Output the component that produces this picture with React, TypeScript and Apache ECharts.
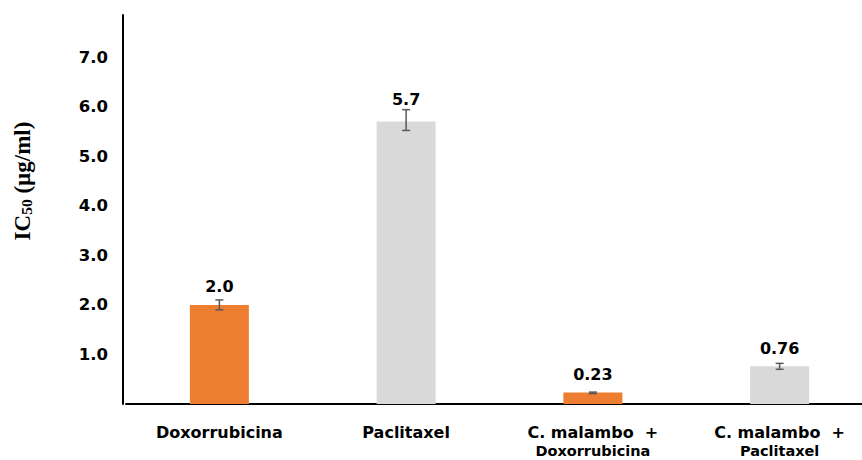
import React, { useEffect, useRef } from "react";
import * as echarts from "echarts";

const categories = [
  "{a|Doxorrubicina}",
  "{a|Paclitaxel}",
  "{a|C. malambo  +}\n{b|Doxorrubicina}",
  "{a|C. malambo  +}\n{b|Paclitaxel}",
];
const values = [2.0, 5.7, 0.23, 0.76];
const valueLabels = ["2.0", "5.7", "0.23", "0.76"];
const errLow = [1.9, 5.52, 0.21, 0.7];
const errHigh = [2.1, 5.94, 0.24, 0.82];
const barColors = ["#ED7D31", "#D9D9D9", "#ED7D31", "#D9D9D9"];
const yTicks = [1, 2, 3, 4, 5, 6, 7];

export default function App() {
  const ref = useRef<HTMLDivElement>(null);
  useEffect(() => {
    const chart = echarts.init(ref.current!, null, { renderer: "svg" });
    const font = "DejaVu Sans";
    const serif = "Liberation Serif";
    chart.setOption({
      animation: false,
      grid: { left: 126, top: 15, width: 747, bottom: 56, containLabel: false, outerBoundsMode: "none" },
      xAxis: {
        type: "category",
        data: categories,
        axisLine: { show: true, lineStyle: { color: "#000", width: 2 } },
        axisTick: { show: false },
        axisLabel: {
          margin: 18,
          rich: {
            a: { fontFamily: font, fontWeight: "bold", fontSize: 16, color: "#000", lineHeight: 20 },
            b: { fontFamily: font, fontWeight: "bold", fontSize: 14.5, color: "#000", lineHeight: 17 },
          },
        },
      },
      yAxis: {
        type: "value",
        min: 0,
        max: 7.85,
        interval: 1,
        offset: 3,
        axisLine: { show: true, lineStyle: { color: "#000", width: 2 } },
        axisTick: { show: false },
        splitLine: { show: false },
        axisLabel: {
          margin: 15,
          padding: [4, 0, 0, 0],
          fontFamily: font,
          fontWeight: "bold",
          fontSize: 16.5,
          color: "#000",
          formatter: (v: number) => (yTicks.indexOf(v) >= 0 ? v.toFixed(1) : ""),
        },
      },
      series: [
        {
          type: "bar",
          barWidth: 59,
          data: values.map((v, i) => ({
            value: v,
            itemStyle: { color: barColors[i] },
            label: { distance: i === 1 ? 14 : 10 },
          })),
          label: {
            show: true,
            position: "top",
            distance: 10,
            fontFamily: font,
            fontWeight: "bold",
            fontSize: 16,
            color: "#000",
            formatter: (p: any) => valueLabels[p.dataIndex],
          },
        },
        {
          type: "custom",
          data: errLow.map((lo, i) => [i, lo, errHigh[i]]),
          z: 10,
          renderItem: (params: any, api: any) => {
            const x = api.value(0);
            const lo = api.coord([x, api.value(1)]);
            const hi = api.coord([x, api.value(2)]);
            const hw = 4;
            const style = { stroke: "#595959", lineWidth: 1.5 };
            return {
              type: "group",
              children: [
                { type: "line", shape: { x1: lo[0], y1: lo[1], x2: hi[0], y2: hi[1] }, style },
                { type: "line", shape: { x1: lo[0] - hw, y1: lo[1], x2: lo[0] + hw, y2: lo[1] }, style },
                { type: "line", shape: { x1: hi[0] - hw, y1: hi[1], x2: hi[0] + hw, y2: hi[1] }, style },
              ],
            };
          },
        },
      ],
      graphic: [
        {
          type: "text",
          x: 22,
          y: 181,
          rotation: Math.PI / 2,
          style: {
            text: "{t|IC}{s|50}{t| (µg/ml)}",
            align: "center",
            verticalAlign: "middle",
            rich: {
              t: { fontFamily: serif, fontWeight: "bold", fontSize: 23, fill: "#000" },
              s: { fontFamily: serif, fontWeight: "bold", fontSize: 15.5, fill: "#000", padding: [9, 0, 0, 0] },
            },
          },
        },
      ],
    });
    return () => chart.dispose();
  }, []);
  return (
    <div
      ref={ref}
      style={{ position: "absolute", left: 0, top: 0, width: 862, height: 460, background: "#fff" }}
    />
  );
}
